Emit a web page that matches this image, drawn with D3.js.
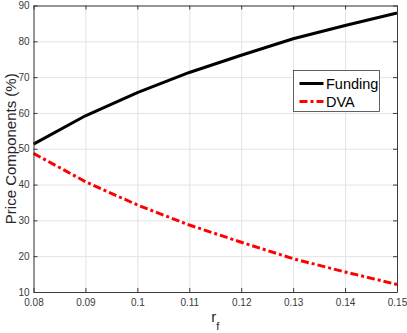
<!DOCTYPE html>
<html>
<head>
<meta charset="utf-8">
<script src="https://cdn.jsdelivr.net/npm/d3@7"></script>
<style>
  body { margin: 0; background: #fff; }
  svg { display: block; font-family: "Liberation Sans", Arial, Helvetica, sans-serif; }
  .axis path, .axis line { stroke: #3a3a3a; }
  .axis text { fill: #3a3a3a; font-size: 10px; }
  .grid line { stroke: #e3e3e3; }
  .grid path { display: none; }
</style>
</head>
<body>
<div id="chart"></div>
<script>
// data
var rf = [0.08, 0.09, 0.10, 0.11, 0.12, 0.13, 0.14, 0.15]
var funding = [51.3, 59.2, 65.7, 71.3, 76.1, 80.7, 84.4, 87.9]
var dva = [48.7, 40.8, 34.3, 28.7, 23.9, 19.3, 15.6, 12.1]
var xTicks = [0.08, 0.09, 0.10, 0.11, 0.12, 0.13, 0.14, 0.15]
var xTickLabels = ["0.08", "0.09", "0.1", "0.11", "0.12", "0.13", "0.14", "0.15"]
var yTicks = [10, 20, 30, 40, 50, 60, 70, 80, 90]
var seriesNames = ["Funding", "DVA"]

var width = 407
var height = 333
var plotLeft = 33.5, plotRight = 397, plotTop = 5.5, plotBottom = 292

var svg = d3.select("#chart")
    .append("svg")
    .attr("width", width)
    .attr("height", height)

var x = d3.scaleLinear().domain([0.08, 0.15]).range([plotLeft, plotRight])
var y = d3.scaleLinear().domain([10, 90]).range([plotBottom, plotTop])

// grid
svg.append("g")
    .attr("class", "grid")
    .attr("transform", "translate(0," + plotBottom + ")")
    .call(d3.axisBottom(x).tickValues(xTicks).tickSize(-(plotBottom - plotTop)).tickFormat(""))
svg.append("g")
    .attr("class", "grid")
    .attr("transform", "translate(" + plotLeft + ",0)")
    .call(d3.axisLeft(y).tickValues(yTicks).tickSize(-(plotRight - plotLeft)).tickFormat(""))

// lines
var line = function(vals) {
    return d3.line()
        .x(function(d, i) { return x(rf[i]) })
        .y(function(d) { return y(d) })(vals)
}

svg.append("path")
    .attr("d", line(funding))
    .attr("fill", "none")
    .attr("stroke", "#000")
    .attr("stroke-width", 3)

svg.append("path")
    .attr("d", line(dva))
    .attr("fill", "none")
    .attr("stroke", "#ff0000")
    .attr("stroke-width", 3)
    .attr("stroke-dasharray", "8,3,3,3")

// axes (box with inward ticks)
svg.append("g")
    .attr("class", "axis")
    .attr("transform", "translate(0," + plotBottom + ")")
    .call(d3.axisBottom(x).tickValues(xTicks).tickSize(-4).tickSizeOuter(0).tickPadding(7)
        .tickFormat(function(d, i) { return xTickLabels[i] }))
svg.append("g")
    .attr("class", "axis")
    .attr("transform", "translate(0," + plotTop + ")")
    .call(d3.axisTop(x).tickValues(xTicks).tickSize(-4).tickSizeOuter(0).tickFormat(""))
svg.append("g")
    .attr("class", "axis")
    .attr("transform", "translate(" + plotLeft + ",0)")
    .call(d3.axisLeft(y).tickValues(yTicks).tickSize(-4).tickSizeOuter(0).tickPadding(4))
svg.append("g")
    .attr("class", "axis")
    .attr("transform", "translate(" + plotRight + ",0)")
    .call(d3.axisRight(y).tickValues(yTicks).tickSize(-4).tickSizeOuter(0).tickFormat(""))

// axis labels
svg.append("text")
    .attr("transform", "translate(16," + ((plotTop + plotBottom) / 2) + ") rotate(-90)")
    .attr("text-anchor", "middle")
    .style("font-size", "15px")
    .style("fill", "#262626")
    .text("Price Components (%)")

var xl = svg.append("text")
    .attr("x", (plotLeft + plotRight) / 2)
    .attr("y", 322)
    .attr("text-anchor", "middle")
    .style("font-size", "15px")
    .style("fill", "#262626")
xl.append("tspan").text("r")
xl.append("tspan").attr("dy", 8).style("font-size", "11px").text("f")

// legend
var lg = svg.append("g").attr("transform", "translate(293.5,70.5)")
lg.append("rect")
    .attr("width", 86)
    .attr("height", 41)
    .attr("fill", "#fff")
    .attr("stroke", "#3a3a3a")
    .attr("stroke-width", 0.8)
var legendColors = ["#000", "#ff0000"]
var legendDash = [null, "8,3,3,3"]
seriesNames.forEach(function(name, i) {
    var ly = 13 + i * 18
    lg.append("line")
        .attr("x1", 6).attr("x2", 30)
        .attr("y1", ly).attr("y2", ly)
        .attr("stroke", legendColors[i])
        .attr("stroke-width", 3)
        .attr("stroke-dasharray", legendDash[i])
    lg.append("text")
        .attr("x", 32.5)
        .attr("y", ly)
        .attr("dy", "0.36em")
        .style("font-size", "14.5px")
        .style("fill", "#000")
        .text(name)
})
</script>
</body>
</html>
